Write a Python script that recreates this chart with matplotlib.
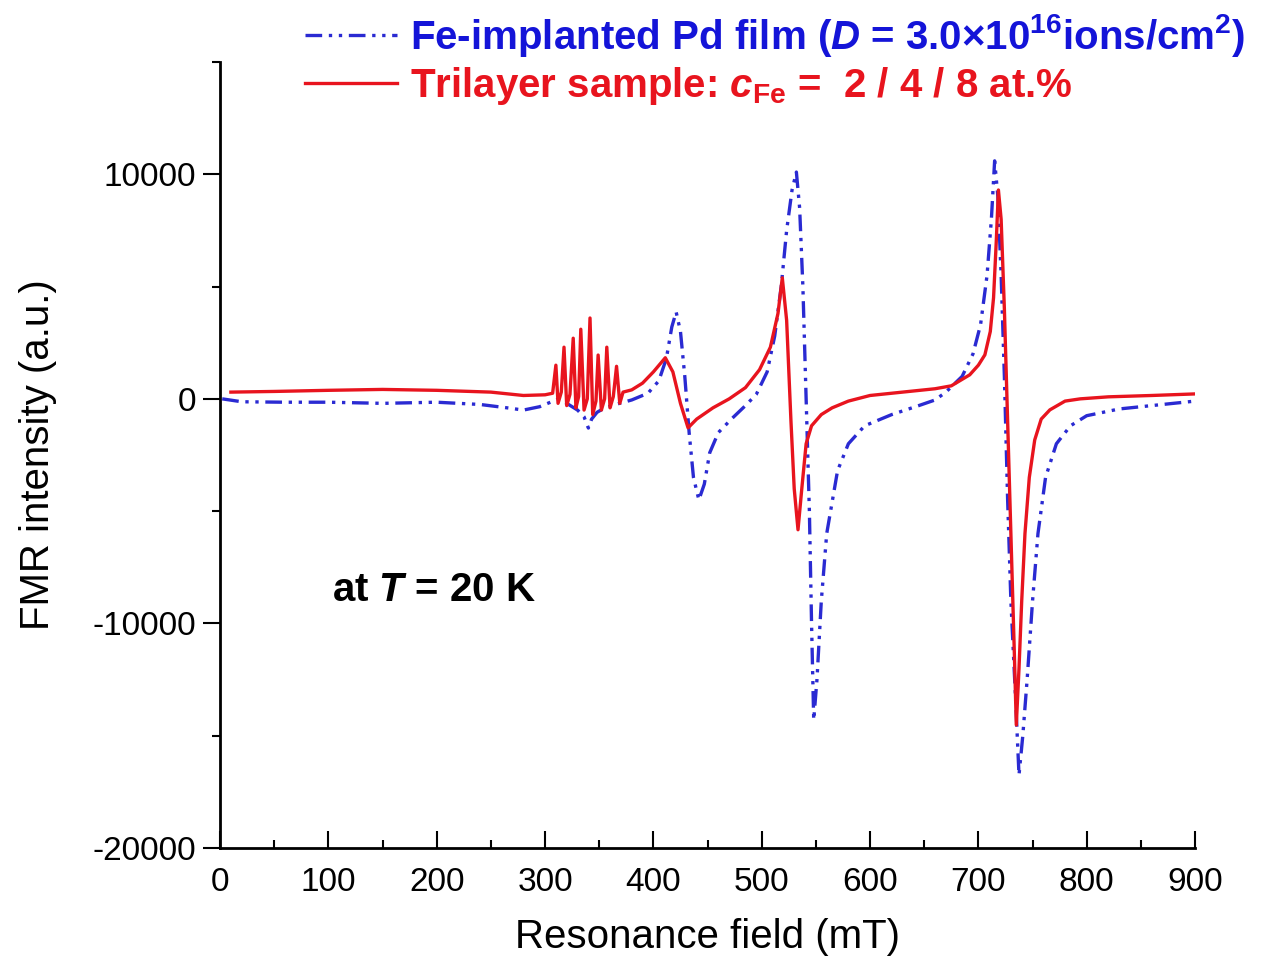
import matplotlib
matplotlib.use("Agg")
import matplotlib.pyplot as plt
from matplotlib.lines import Line2D
from matplotlib.ticker import MultipleLocator

###fonts: Arial-like everywhere, mathtext also bold so the legend reads right
plt.rcParams['font.family'] = ['Liberation Sans', 'DejaVu Sans']
plt.rcParams['mathtext.fontset'] = 'custom'
plt.rcParams['mathtext.rm'] = 'Liberation Sans:bold'
plt.rcParams['mathtext.bf'] = 'Liberation Sans:bold'
plt.rcParams['mathtext.it'] = 'Liberation Sans:bold:italic'
plt.rcParams['axes.unicode_minus'] = False

###Fe-implanted Pd film (field in mT, intensity in a.u.)
field_implanted = [2, 20, 60, 100, 150, 200, 240, 265, 280, 295, 305, 312, 320, 330, 336, 340, 343, 348,
                   355, 365, 380, 395, 405, 412, 417, 421, 425, 429, 433, 437, 442, 447, 452, 460, 472,
                   485, 495, 505, 512, 518, 523, 528, 532, 535, 538, 541, 544, 546, 548, 551, 555, 560,
                   570, 580, 595, 620, 645, 660, 670, 685, 695, 702, 708, 712, 715, 718, 721, 724, 727,
                   730, 734, 737.5, 741, 745, 750, 755, 762, 772, 785, 800, 830, 860, 900]
fmr_implanted = [0, -130, -150, -150, -200, -150, -250, -400, -500, -350, -150, 0, -200, -500, -800, -1300, -900, -600,
                 -400, -250, -50, 250, 800, 1800, 3200, 3870, 3000, 1000, -1500, -3500, -4500, -3800, -2400, -1500, -900,
                 -300, 200, 1200, 2800, 5000, 7500, 9300, 10100, 8500, 5000, 0, -5000, -10000, -14300, -12500, -9000, -6000,
                 -3200, -2000, -1200, -700, -300, -50, 300, 1000, 2000, 3300, 5500, 8000, 10600, 9000, 5500, 1000, -4500,
                 -9000, -13000, -16750, -15000, -12500, -9000, -6000, -3500, -2000, -1200, -750, -450, -300, -100]

###trilayer sample, with the hyperfine spikes around 310-370 mT
field_trilayer = [10, 50, 100, 150, 200, 250, 280, 300, 307,
                  310, 312, 315, 317.5, 320, 323, 326, 328.5, 331, 333, 336, 339, 341.5, 344, 347, 349, 352,
                  355, 357, 360, 363, 366, 369, 372, 380, 390, 400, 411, 418, 425, 432, 440, 455, 470, 485,
                  498, 508, 515, 519, 523, 527, 530, 533.5, 537, 541, 546, 555, 565, 580, 600, 630, 660, 675,
                  692, 700, 706, 711, 714, 716.5, 718.5, 721, 724, 727, 730, 733, 735, 737.5, 740, 743, 747,
                  752, 758, 766, 780, 794, 820, 860, 900]
fmr_trilayer = [300, 330, 380, 420, 380, 300, 150, 180, 250,
                1500, -200, 300, 2300, -300, 200, 2700, -400, 100, 3100, -500, 0, 3600, -700, -100, 1950, -500,
                0, 2300, -400, 100, 1450, -200, 300, 400, 700, 1200, 1830, 1200, -200, -1290, -900, -400, 0, 500,
                1300, 2300, 3800, 5390, 3500, -1000, -4000, -5830, -4000, -2000, -1200, -700, -400, -100, 150, 300, 450, 580,
                1070, 1500, 1960, 3000, 4500, 7000, 9300, 8000, 4000, -1000, -6000, -11000, -14520, -12000, -9000, -6000, -3500,
                -1830, -900, -490, -100, 0, 90, 150, 220]

blue = '#2a2ad2'
red = '#e8141e'

fig = plt.figure(figsize=(12.61, 9.6), dpi=100)
ax = fig.add_axes([0.1745, 0.1167, 0.7732, 0.8187])

ax.plot(field_implanted, fmr_implanted, color=blue, lw=2.4, ls=(0, (5, 2, 1, 2, 1, 2)))
ax.plot(field_trilayer, fmr_trilayer, color=red, lw=2.4)

ax.set_xlim(0, 900)
ax.set_ylim(-20000, 15000)
ax.xaxis.set_major_locator(MultipleLocator(100))
ax.xaxis.set_minor_locator(MultipleLocator(50))
ax.yaxis.set_major_locator(MultipleLocator(10000))
ax.yaxis.set_minor_locator(MultipleLocator(5000))
ax.spines['top'].set_visible(False)
ax.spines['right'].set_visible(False)
for s in ['left', 'bottom']:
    ax.spines[s].set_linewidth(2)
ax.tick_params(axis='x', which='both', direction='in', width=1.5, labelsize=24, pad=14)
ax.tick_params(axis='x', which='major', length=12)
ax.tick_params(axis='x', which='minor', length=6)
ax.tick_params(axis='y', which='both', direction='out', width=1.5, labelsize=24, pad=5)
ax.tick_params(axis='y', which='major', length=12)
ax.tick_params(axis='y', which='minor', length=6)

ax.set_xlabel('Resonance field (mT)', fontsize=29, labelpad=14)
ax.set_ylabel('FMR intensity (a.u.)', fontsize=29, labelpad=26)

ax.text(103, -8500, 'at $T$ = 20 K', fontsize=29, fontweight='bold', va='center', ha='left')

###legend sits on top, partly over the axes
handles = [Line2D([], [], color=blue, lw=2.4, ls=(0, (5, 2, 1, 2, 1, 2))),
           Line2D([], [], color=red, lw=2.4)]
labels = ['Fe-implanted Pd film ($D$ = 3.0\u00d710$^{16}$ions/cm$^2$)',
          'Trilayer sample: $c_{\\mathrm{Fe}}$ =  2 / 4 / 8 at.%']
leg = fig.legend(handles, labels, loc='upper left', bbox_to_anchor=(0.213, 1.025), frameon=False,
                 prop={'size': 29, 'weight': 'bold'}, handlelength=2.3, handletextpad=0.3, labelspacing=0.15)
leg.get_texts()[0].set_color('#1414d8')
leg.get_texts()[1].set_color('#e8141e')

fig.savefig('out.png', dpi=100)
